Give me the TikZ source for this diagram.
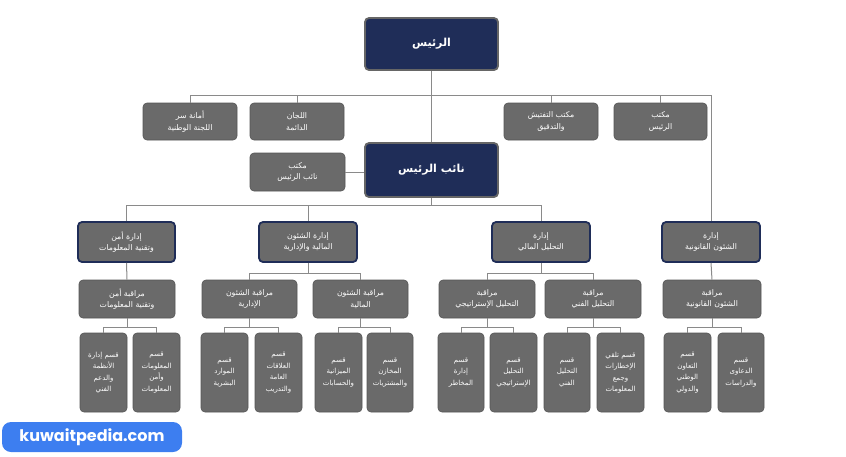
\documentclass[tikz,border=0pt]{standalone}
\usepackage{fontspec}
\newfontfamily\arf[Script=Arabic]{DejaVu Sans}
\setsansfont{Poppins}
\TeXXeTstate=1
\newcommand\AR[1]{\beginR#1\endR}
\definecolor{navy}{HTML}{1F2D58}
\definecolor{gbox}{HTML}{6A6A6A}
\definecolor{gline}{HTML}{8A8A8A}
\definecolor{wblue}{HTML}{3D7EF0}
\tikzset{
 base/.style={rounded corners=4pt,text=white,align=center,inner sep=1pt,font=\arf\fontsize{7.8}{11.5}\selectfont},
 top/.style={base,fill=navy,draw=gray!80!black,line width=1.8pt,font=\arf\bfseries\fontsize{11}{13}\selectfont},
 mgr/.style={base,fill=gbox,draw=navy,line width=1.8pt},
 box/.style={base,fill=gbox,draw=gbox!80!black,line width=0.6pt},
 sm/.style={base,fill=gbox,draw=gbox!80!black,line width=0.6pt,font=\arf\fontsize{7}{11.5}\selectfont},
 con/.style={draw=gline,line width=1pt}
}
\newcommand\bx[7]{\node[#6,minimum width={#4pt-#2pt},minimum height={#5pt-#3pt}] (#1) at ({(#2+#4)/2},{(#3+#5)/2}) {#7};}
\begin{document}
\begin{tikzpicture}[x=1pt,y=-1pt]
\useasboundingbox (0,0) rectangle (846,456);
\bx{pres}{365}{18}{498}{70}{top}{\AR{الرئيس}}
\bx{vp}{365}{143}{498}{197}{top}{\AR{نائب الرئيس}}
\bx{t1}{143}{103}{237}{140}{box}{\AR{أمانة سر}\\\AR{اللجنة الوطنية}}
\bx{t2}{250}{103}{344}{140}{box}{\AR{اللجان}\\\AR{الدائمة}}
\bx{t3}{504}{103}{598}{140}{box}{\AR{مكتب التفتيش}\\\AR{والتدقيق}}
\bx{t4}{614}{103}{707}{140}{box}{\AR{مكتب}\\\AR{الرئيس}}
\bx{vpo}{250}{153}{345}{191}{box}{\AR{مكتب}\\\AR{نائب الرئيس}}
% level 2
\bx{a2}{78}{222}{175}{262}{mgr}{\AR{إدارة أمن}\\\AR{وتقنية المعلومات}}
\bx{b2}{259}{222}{357}{262}{mgr}{\AR{إدارة الشئون}\\\AR{المالية والإدارية}}
\bx{c2}{492}{222}{590}{262}{mgr}{\AR{إدارة}\\\AR{التحليل المالي}}
\bx{d2}{662}{222}{760}{262}{mgr}{\AR{إدارة}\\\AR{الشئون القانونية}}
% level 3
\bx{a3}{79}{280}{175}{318}{box}{\AR{مراقبة أمن}\\\AR{وتقنية المعلومات}}
\bx{b3}{202}{280}{297}{318}{box}{\AR{مراقبة الشئون}\\\AR{الإدارية}}
\bx{b4}{313}{280}{408}{318}{box}{\AR{مراقبة الشئون}\\\AR{المالية}}
\bx{c3}{439}{280}{535}{318}{box}{\AR{مراقبة}\\\AR{التحليل الإستراتيجي}}
\bx{c4}{545}{280}{641}{318}{box}{\AR{مراقبة}\\\AR{التحليل الفني}}
\bx{d3}{663}{280}{761}{318}{box}{\AR{مراقبة}\\\AR{الشئون القانونية}}
% level 4
\bx{a41}{80}{333}{127}{412}{sm}{\AR{قسم إدارة}\\\AR{الأنظمة}\\\AR{والدعم}\\\AR{الفني}}
\bx{a42}{133}{333}{180}{412}{sm}{\AR{قسم}\\\AR{المعلومات}\\\AR{وأمن}\\\AR{المعلومات}}
\bx{b41}{201}{333}{248}{412}{sm}{\AR{قسم}\\\AR{الموارد}\\\AR{البشرية}}
\bx{b42}{255}{333}{302}{412}{sm}{\AR{قسم}\\\AR{العلاقات}\\\AR{العامة}\\\AR{والتدريب}}
\bx{b51}{315}{333}{362}{412}{sm}{\AR{قسم}\\\AR{الميزانية}\\\AR{والحسابات}}
\bx{b52}{367}{333}{413}{412}{sm}{\AR{قسم}\\\AR{المخازن}\\\AR{والمشتريات}}
\bx{c41}{438}{333}{484}{412}{sm}{\AR{قسم}\\\AR{إدارة}\\\AR{المخاطر}}
\bx{c42}{490}{333}{537}{412}{sm}{\AR{قسم}\\\AR{التحليل}\\\AR{الإستراتيجي}}
\bx{c51}{544}{333}{590}{412}{sm}{\AR{قسم}\\\AR{التحليل}\\\AR{الفني}}
\bx{c52}{597}{333}{644}{412}{sm}{\AR{قسم تلقي}\\\AR{الإخطارات}\\\AR{وجمع}\\\AR{المعلومات}}
\bx{d41}{664}{333}{711}{412}{sm}{\AR{قسم}\\\AR{التعاون}\\\AR{الوطني}\\\AR{والدولي}}
\bx{d42}{718}{333}{764}{412}{sm}{\AR{قسم}\\\AR{الدعاوى}\\\AR{والدراسات}}
% connectors
\draw[con] (pres.south) -- (vp.north);
\foreach \n in {t1,t2,t3,t4,d2} \draw[con] (pres.south) -- ++(0,25) -| (\n.north);
\draw[con] (vpo.east) -- (vpo.east -| vp.west);
\foreach \n in {a2,b2,c2} \draw[con] (vp.south) -- ++(0,8) -| (\n.north);
\draw[con] (a2.south) -- (a3.north);
\draw[con] (d2.south) -- (d3.north);
\foreach \n in {b3,b4} \draw[con] (b2.south) -- ++(0,11) -| (\n.north);
\foreach \n in {c3,c4} \draw[con] (c2.south) -- ++(0,11) -| (\n.north);
\foreach \p/\a/\b in {a3/a41/a42,b3/b41/b42,b4/b51/b52,c3/c41/c42,c4/c51/c52,d3/d41/d42}{
 \draw[con] (\p.south) -- ++(0,9) -| (\a.north);
 \draw[con] (\p.south) -- ++(0,9) -| (\b.north);}
\node[fill=wblue,rounded corners=9pt,minimum width=180pt,minimum height=30pt,text=white,font=\sffamily\bfseries\fontsize{16}{18}\selectfont] (wm) at (92,437) {kuwaitpedia.com};
\end{tikzpicture}
\end{document}
